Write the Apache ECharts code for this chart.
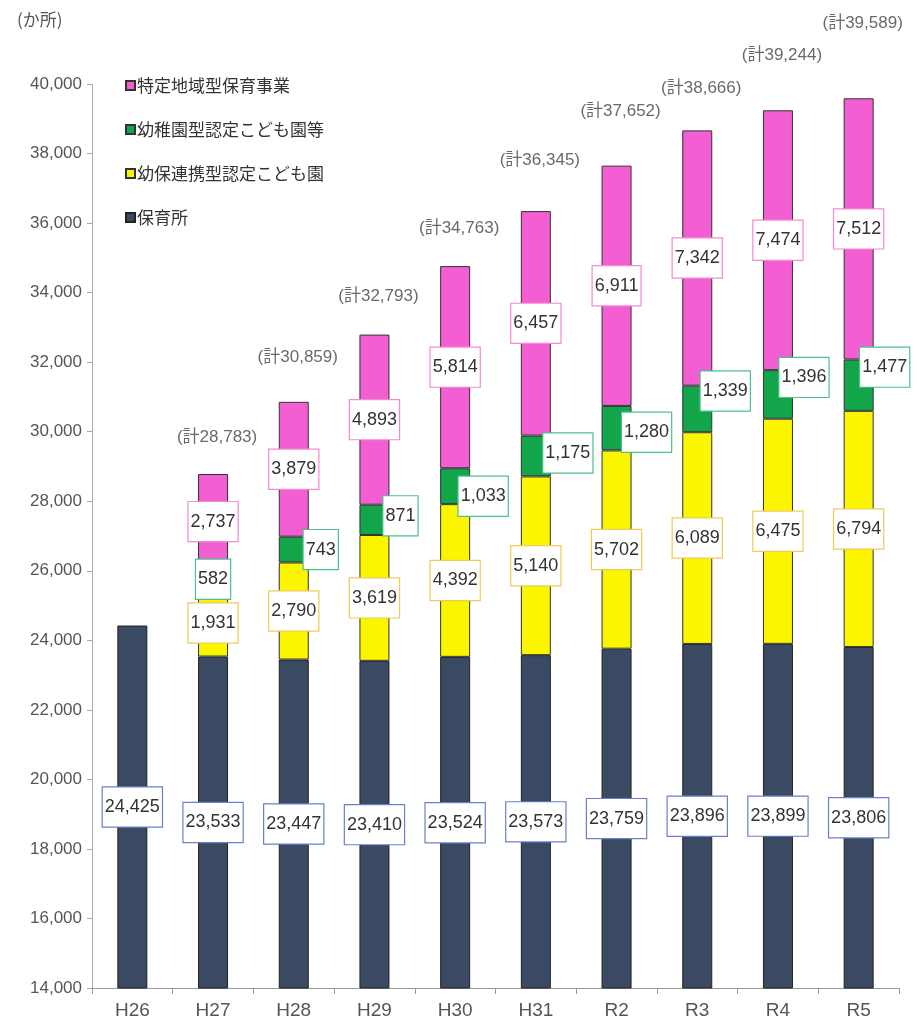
<!DOCTYPE html>
<html>
<head>
<meta charset="utf-8">
<script src="https://cdn.jsdelivr.net/npm/echarts@6/dist/echarts.min.js"></script>
<style>
  html, body { margin: 0; padding: 0; background: #fff; }
  #main { width: 917px; height: 1035px; }
</style>
</head>
<body>
<div id="main"></div>
<script>
const years = ['H26', 'H27', 'H28', 'H29', 'H30', 'H31', 'R2', 'R3', 'R4', 'R5'];
const hoikusho = [24425, 23533, 23447, 23410, 23524, 23573, 23759, 23896, 23899, 23806];
const yohoRenkei = [null, 1931, 2790, 3619, 4392, 5140, 5702, 6089, 6475, 6794];
const yochienGata = [null, 582, 743, 871, 1033, 1175, 1280, 1339, 1396, 1477];
const tokuteiChiiki = [null, 2737, 3879, 4893, 5814, 6457, 6911, 7342, 7474, 7512];
const totals = [null, 28783, 30859, 32793, 34763, 36345, 37652, 38666, 39244, 39589];

// label placement tweaks (pixels)
const greenOffsets = [[0, 0], [0, 0], [27, 0], [26, -4], [28, 10], [32, -3], [30, 4], [28, -18], [26, -17], [26, -18]];
const totalOffsets = [0, -37, -45, -38, -38, -51, -54, -42, -55, -75];

const numFont = '"Liberation Sans", Arial, sans-serif';
const jpFont = '"Noto Sans CJK JP", sans-serif';

function fmt(v) {
    return Number(v).toLocaleString('en-US');
}

function boxLabel(border) {
    return {
        show: true,
        position: 'inside',
        formatter: p => fmt(p.value),
        fontFamily: numFont,
        fontSize: 18,
        color: '#333',
        backgroundColor: '#fff',
        borderColor: border,
        borderWidth: 1.2,
        padding: [11, 2, 10, 2]
    };
}

let myChart = echarts.init(document.getElementById('main'));
let option = {
    backgroundColor: '#fff',
    animation: false,
    title: {
        text: '(か所)',
        left: 12,
        top: 6,
        textStyle: {
            fontFamily: jpFont,
            fontSize: 17,
            fontWeight: 'normal',
            color: '#555'
        }
    },
    legend: {
        orient: 'vertical',
        left: 120,
        top: 72,
        itemWidth: 9,
        itemHeight: 9,
        itemGap: 27,
        icon: 'rect',
        data: ['特定地域型保育事業', '幼稚園型認定こども園等', '幼保連携型認定こども園', '保育所'],
        textStyle: {
            fontFamily: jpFont,
            fontSize: 17,
            color: '#333',
            padding: [0, 0, 0, -3]
        }
    },
    grid: {
        left: 92,
        right: 18,
        top: 84,
        bottom: 47
    },
    xAxis: {
        type: 'category',
        data: years,
        axisLine: { lineStyle: { color: '#999' } },
        axisTick: { show: true, length: 6, lineStyle: { color: '#999' } },
        axisLabel: {
            fontFamily: numFont,
            fontSize: 19,
            color: '#555',
            margin: 13
        }
    },
    yAxis: {
        type: 'value',
        min: 14000,
        max: 40000,
        interval: 2000,
        splitLine: { show: false },
        axisLine: { show: true, lineStyle: { color: '#aaa' } },
        axisTick: { show: true, length: 5, lineStyle: { color: '#aaa' } },
        axisLabel: {
            fontFamily: numFont,
            fontSize: 17,
            color: '#555',
            margin: 10,
            formatter: v => fmt(v)
        }
    },
    series: [
        {
            name: '保育所',
            type: 'bar',
            stack: 'all',
            barWidth: 30,
            data: hoikusho,
            itemStyle: { color: '#3B4A63', borderColor: '#222', borderWidth: 1 },
            label: boxLabel('#6B80C6')
        },
        {
            name: '幼保連携型認定こども園',
            type: 'bar',
            stack: 'all',
            data: yohoRenkei,
            itemStyle: { color: '#FCF500', borderColor: '#333', borderWidth: 1 },
            label: boxLabel('#EFCB5A')
        },
        {
            name: '幼稚園型認定こども園等',
            type: 'bar',
            stack: 'all',
            data: yochienGata.map((v, i) => ({
                value: v,
                label: { offset: greenOffsets[i] }
            })),
            itemStyle: { color: '#12A54A', borderColor: '#333', borderWidth: 1 },
            label: boxLabel('#4DC08E')
        },
        {
            name: '特定地域型保育事業',
            type: 'bar',
            stack: 'all',
            data: tokuteiChiiki,
            itemStyle: { color: '#F35ED2', borderColor: '#333', borderWidth: 1 },
            label: boxLabel('#F48ACF')
        },
        {
            name: '合計',
            type: 'scatter',
            symbolSize: 0,
            data: totals.map((v, i) => ({
                value: v == null ? '-' : v,
                label: { offset: [4, totalOffsets[i]] }
            })),
            label: {
                show: true,
                position: 'inside',
                formatter: p => '(計' + fmt(p.value) + ')',
                fontFamily: numFont + ', ' + jpFont,
                fontSize: 17,
                color: '#444'
            }
        }
    ]
};
myChart.setOption(option);
</script>
</body>
</html>
